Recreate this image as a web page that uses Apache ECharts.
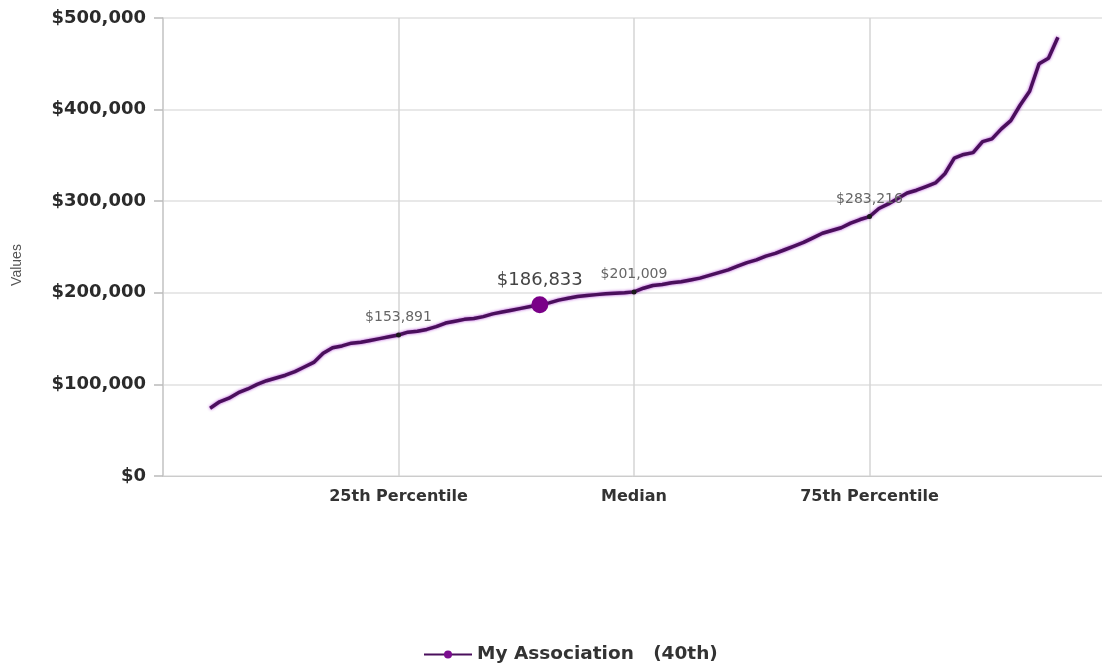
<!DOCTYPE html>
<html>
<head>
<meta charset="utf-8">
<script src="https://cdn.jsdelivr.net/npm/echarts@6/dist/echarts.min.js"></script>
<style>
  html, body { margin: 0; padding: 0; background: #ffffff; overflow: hidden; }
  #chart { width: 1102px; height: 670px; }
</style>
</head>
<body>
<div id="chart"></div>
<script>
// Percentile positions along the distribution (x) and the value at each one (y)
const percentiles = [
  5, 6, 7, 8, 9, 10, 11, 12, 13, 14, 15, 16, 17, 18, 19, 20, 21, 22, 23, 24,
  25, 26, 27, 28, 29, 30, 31, 32, 33, 34, 35, 36, 37, 38, 39, 40, 41, 42, 43, 44,
  45, 46, 47, 48, 49, 50, 51, 52, 53, 54, 55, 56, 57, 58, 59, 60, 61, 62, 63, 64,
  65, 66, 67, 68, 69, 70, 71, 72, 73, 74, 75, 76, 77, 78, 79, 80, 81, 82, 83, 84,
  85, 86, 87, 88, 89, 90, 91, 92, 93, 94, 95
];
const values = [
  74000, 81000, 85000, 91000, 95000, 100000, 104000, 107000, 110000, 114000,
  119000, 124000, 134000, 140000, 142000, 145000, 146000, 148000, 150000, 152000,
  153891, 157000, 158000, 160000, 163000, 167000, 169000, 171000, 172000, 174000,
  177000, 179000, 181000, 183000, 185000, 186833, 189000, 192000, 194000, 196000,
  197000, 198000, 199000, 199500, 200000, 201009, 205000, 208000, 209000, 211000,
  212000, 214000, 216000, 219000, 222000, 225000, 229000, 233000, 236000, 240000,
  243000, 247000, 251000, 255000, 260000, 265000, 268000, 271000, 276000, 280000,
  283216, 292000, 297000, 303000, 309000, 312000, 316000, 320000, 330000, 347000,
  351000, 353000, 365000, 368000, 379000, 388000, 405000, 420000, 450000, 456000,
  479000
];

// Reference percentiles that get a marker and a value label
const markerPercentiles = [25, 50, 75];

// Bottom axis tick labels
const xTickValues = [25, 50, 75];
const xTickLabels = ['25th Percentile', 'Median', '75th Percentile'];

// Highlighted association
const memberPercentile = 40;
const memberValue = 186833;
const legendLabel = 'My Association   (40th)';

function money(v) {
  return '$' + Math.round(v).toLocaleString('en-US');
}

const linePoints = percentiles.map((p, i) => [p, values[i]]);
const markerPoints = markerPercentiles.map(p => [p, values[percentiles.indexOf(p)]]);

const chart = echarts.init(document.getElementById('chart'), null, { renderer: 'canvas' });

chart.setOption({
  animation: false,
  backgroundColor: '#ffffff',
  // the plot runs slightly past the right edge so the 100th-percentile line is clipped
  grid: {
    left: 163, top: 18, width: 942, height: 458,
    containLabel: false,
    outerBoundsMode: 'none'
  },
  legend: {
    data: [legendLabel],
    top: 640,
    left: 418,
    itemWidth: 48,
    itemHeight: 10,
    itemGap: 6,
    textStyle: { fontFamily: 'DejaVu Sans', fontWeight: 'bold', fontSize: 18.5, color: '#333333' }
  },
  xAxis: {
    type: 'value',
    min: 0,
    max: 100,
    interval: 25,
    axisLine: { show: true, lineStyle: { color: '#cccccc', width: 1 } },
    axisTick: { show: false },
    axisLabel: {
      margin: 13,
      fontFamily: 'DejaVu Sans',
      fontWeight: 'bold',
      fontSize: 16,
      color: '#333333',
      formatter: v => {
        const i = xTickValues.indexOf(v);
        return i >= 0 ? xTickLabels[i] : '';
      }
    },
    splitLine: { show: true, lineStyle: { color: '#d4d4d4', width: 1.5 } }
  },
  yAxis: {
    type: 'value',
    min: 0,
    max: 500000,
    interval: 100000,
    name: 'Values',
    nameLocation: 'middle',
    nameGap: 139,
    nameTextStyle: { fontFamily: 'Liberation Sans', fontSize: 14, color: '#555555', padding: [0, 36, 0, 0] },
    axisLine: { show: true, lineStyle: { color: '#cccccc', width: 1.5 } },
    axisTick: { show: true, length: 9, lineStyle: { color: '#bbbbbb', width: 1.5 } },
    axisLabel: {
      margin: 17,
      fontFamily: 'DejaVu Sans',
      fontWeight: 'bold',
      fontSize: 18,
      color: '#2b2b2b',
      formatter: v => money(v)
    },
    splitLine: { show: true, lineStyle: { color: '#e8e8e8', width: 2 } }
  },
  series: [
    {
      name: legendLabel,
      type: 'line',
      data: linePoints,
      symbol: 'circle',
      symbolSize: 8,
      showSymbol: false,
      silent: true,
      z: 2,
      itemStyle: { color: '#7b0d8f' },
      lineStyle: {
        color: '#4a0f5c',
        width: 3.5,
        shadowColor: 'rgba(170, 50, 210, 0.9)',
        shadowBlur: 3
      }
    },
    {
      name: 'markers',
      type: 'scatter',
      data: markerPoints,
      symbol: 'circle',
      symbolSize: 5,
      silent: true,
      z: 3,
      itemStyle: { color: '#1a1a1a', opacity: 1 },
      label: {
        show: true,
        position: 'top',
        distance: 8,
        fontFamily: 'DejaVu Sans',
        fontSize: 14,
        color: '#666666',
        formatter: p => money(p.value[1])
      }
    },
    {
      name: 'member',
      type: 'scatter',
      data: [[memberPercentile, memberValue]],
      symbol: 'circle',
      symbolSize: 17,
      silent: true,
      z: 4,
      itemStyle: { color: '#7a0088', opacity: 1 },
      label: {
        show: true,
        position: 'top',
        distance: 7,
        fontFamily: 'DejaVu Sans',
        fontSize: 18,
        color: '#444444',
        formatter: p => money(p.value[1])
      }
    }
  ]
});
</script>
</body>
</html>
